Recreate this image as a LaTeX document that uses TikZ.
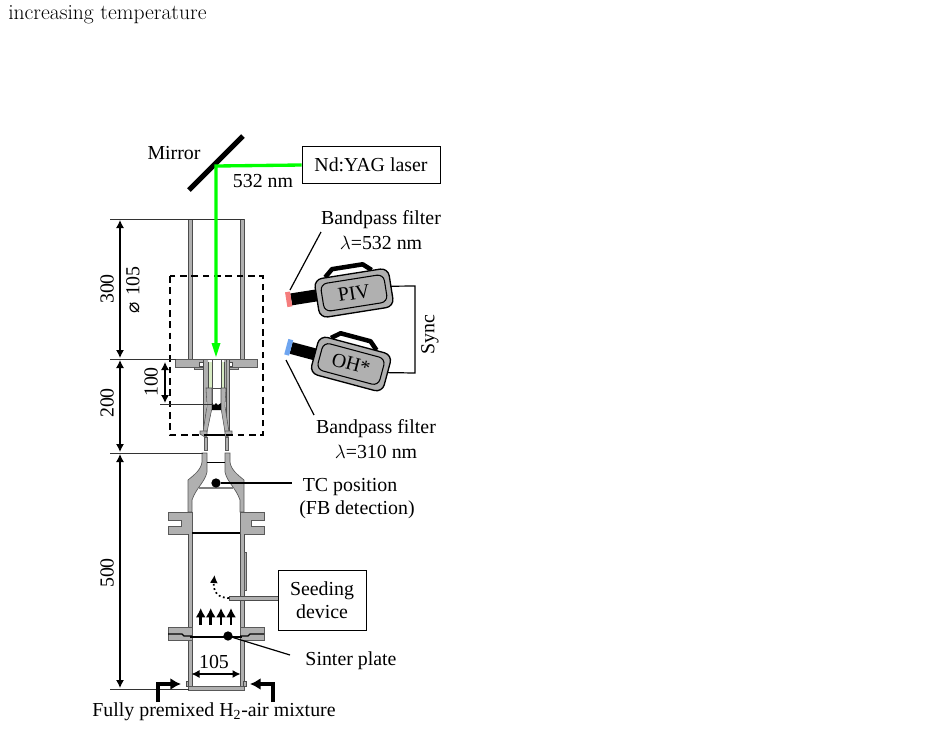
\documentclass[tikz,border=0pt]{standalone}
\usepackage{fontspec}
\newfontfamily\labfont{Liberation Serif}
\newfontfamily\symfont{DejaVu Sans}
\usetikzlibrary{arrows.meta}
\definecolor{wallgray}{RGB}{176,176,176}
\definecolor{beamgreen}{RGB}{0,255,0}
\definecolor{palegreen}{RGB}{215,235,195}
\definecolor{redfilter}{RGB}{245,125,125}
\definecolor{bluefilter}{RGB}{110,165,240}
\tikzset{
  lab/.style={font=\labfont\fontsize{14.9}{16}\selectfont,inner sep=0pt,align=center},
  dimline/.style={line width=0.6pt,black!80},
  dimarrow/.style={line width=0.9pt,{Latex[length=6pt,width=6pt]}-{Latex[length=6pt,width=6pt]}},
  wall/.style={fill=wallgray,draw=black!65,line width=0.5pt},
  beam/.style={draw=beamgreen,line width=2.5pt},
  leader/.style={line width=0.9pt},
  flowarrow/.style={line width=2.2pt,-{Latex[length=7pt,width=7.5pt]}},
  inletarrow/.style={line width=3pt,-{Latex[length=8pt,width=9pt]}},
  boxnode/.style={lab,draw,line width=0.7pt,minimum height=28pt},
  cambody/.style={fill=wallgray,draw=black,line width=1pt,rounded corners=6pt},
  caminner/.style={draw=black,line width=0.8pt,rounded corners=5pt},
}
\begin{document}
\begin{tikzpicture}[x=0.75pt,y=-0.75pt]
\useasboundingbox (0,0) rectangle (926,729);
% top text
\node[anchor=west,inner sep=0pt,font=\fontsize{16.2}{17}\selectfont] (caption) at (8,15) {increasing temperature};
% mirror
\coordinate (mirrorA) at (189,190);
\coordinate (mirrorB) at (243,136);
\draw[line width=3.8pt] (mirrorA) -- (mirrorB);
\node[lab] (mirrorlab) at (174,153) {Mirror};
% laser
\node[boxnode,minimum width=103.5pt] (laser) at (371,165) {Nd:YAG laser};
\node[lab] (nm) at (263,181) {532 nm};
% upper tube
\fill[wallgray] (188,219) rectangle (192,359) (240,219) rectangle (244,359);
\draw[black!70,line width=0.5pt] (188,219) -- (188,359) (192,219) -- (192,359) (240,219) -- (240,359) (244,219) -- (244,359);
% flange
\draw[wall] (175,359) rectangle (257,367);
\draw[wall] (194,367) rectangle (203,369) (229,367) rectangle (238,369);
% burner tube
\fill[wallgray] (203,360) rectangle (206,432) (226,360) rectangle (229,432);
\draw[black!70,line width=0.5pt] (203,360) -- (203,432) (206,360) -- (206,432) (226,360) -- (226,432) (229,360) -- (229,432);
\fill[white] (206,360) rectangle (226,432);
\fill[palegreen] (208,362) rectangle (212,388) (222,362) rectangle (226,388);
\fill[wallgray] (206,360) rectangle (208,388) (224,360) rectangle (226,388);
\draw[black!70,line width=0.4pt] (212,360) -- (212,406) (221,360) -- (221,406) (208,362) -- (208,388) (224,362) -- (224,388);
\draw[black!70,line width=0.5pt] (212,388) -- (221,388);
\fill[white,draw=black!70,line width=0.4pt] (199.5,362) rectangle (203,366.5) (229,362) rectangle (232.5,366.5);
\fill[wallgray,draw=black!70,line width=0.4pt] (212,388) -- (206,388) -- (207,406) -- (203,432) -- (207,432) -- (212,408) -- cycle;
\fill[wallgray,draw=black!70,line width=0.4pt] (221,388) -- (226,388) -- (225,406) -- (229,432) -- (225,432) -- (221,408) -- cycle;
% mesh
\fill[black] (212,403) -- (214,405) -- (216,403) -- (218,405) -- (221,403) -- (221,410) -- (212,410) -- cycle;
% burner flange
\draw[wall] (200,431) -- (207,431) -- (207,436) -- (205,437) -- (200,434) -- cycle;
\draw[wall] (232,431) -- (225,431) -- (225,436) -- (227,437) -- (232,434) -- cycle;
\draw[line width=1.3pt] (207,435) -- (225,435);
\draw[wall] (204,437) rectangle (207,450) (225,437) rectangle (228,450);
% contraction, left and right
\draw[wall] (202,453) -- (207,453) -- (207,472) .. controls (205,482) and (196,488) .. (192,500) -- (192,512) -- (188,512) -- (188,480) .. controls (194,475) and (201,470) .. (202,462) -- cycle;
\draw[wall] (230,453) -- (225,453) -- (225,472) .. controls (227,482) and (236,488) .. (240,500) -- (240,512) -- (244,512) -- (244,480) .. controls (238,475) and (231,470) .. (230,462) -- cycle;
\draw[line width=0.5pt] (207,462) -- (225,462);
\draw[black!50,line width=1pt] (199,488) -- (233,488);
% flange pair
\draw[wall] (168,512) -- (192,512) -- (192,534) -- (168,534) -- (168,526) -- (181,526) -- (181,520) -- (168,520) -- cycle;
\draw[wall] (264,512) -- (240,512) -- (240,534) -- (264,534) -- (264,526) -- (251,526) -- (251,520) -- (264,520) -- cycle;
\draw[line width=1.4pt] (192,533) -- (240,533);
% lower tube
\fill[wallgray] (188,534) rectangle (192,689) (240,534) rectangle (244,689);
\draw[black!70,line width=0.5pt] (188,534) -- (188,689) (192,534) -- (192,689) (240,534) -- (240,689) (244,534) -- (244,689);
\draw[wall] (188,686) rectangle (244,690);
\draw[wall] (244,552) rectangle (246,590);
\fill[wallgray,draw=black!70,line width=0.4pt] (186,681.5) rectangle (188.5,686.5) (243.5,681.5) rectangle (246,686.5);
% lower flange
\draw[wall] (168,627) rectangle (192,640) (240,627) rectangle (264,640);
\draw[line width=0.9pt] (168,634) -- (182,634) -- (184,636) -- (192,636) (264,634) -- (250,634) -- (248,636) -- (240,636);
\draw[line width=1.1pt] (190,637) -- (242,637);
% dashed box
\draw[dashed,line width=0.8pt,dash pattern=on 5pt off 3.5pt] (170,276) rectangle (263,435);
% dimension lines
\coordinate (d0) at (110,219); \coordinate (d0e) at (191,219);
\coordinate (d1) at (110,359); \coordinate (d1e) at (176,359);
\coordinate (d2) at (110,453); \coordinate (d2e) at (203,453);
\coordinate (d3) at (110,689); \coordinate (d3e) at (189,689);
\coordinate (d4) at (160,404); \coordinate (d4e) at (213,404);
\draw[dimline] (d0) -- (d0e);
\draw[dimline] (d0e) -- (244,219);
\draw[dimline] (d1) -- (d1e);
\draw[dimline] (d2) -- (d2e);
\draw[dimline] (d3) -- (d3e);
\draw[dimline] (d4) -- (d4e);
\draw[dimarrow] (120,220) -- (120,358);
\draw[dimarrow] (120,360) -- (120,452);
\draw[dimarrow] (120,454) -- (120,688);
\draw[dimarrow] (165,362) -- (165,403);
\draw[dimarrow] (191.5,674) -- (240.5,674);
\node[lab,rotate=90] (t300) at (107,289) {300};
\node[lab,rotate=90] (tdia) at (133,290) {{\symfont\fontsize{14}{14}\selectfont ⌀}\,\,105};
\node[lab,rotate=90] (t200) at (107,403) {200};
\node[lab,rotate=90] (t100) at (151,382) {100};
\node[lab,rotate=90] (t500) at (107,573) {500};
\node[lab] (t105) at (214,662) {105};
% beam
\coordinate (beamcorner) at (216,166);
\coordinate (beamend) at (216,357);
\draw[beam] (laser.west) -- (beamcorner) -- (216,346);
\fill[beamgreen] (beamend) -- (211.5,343) -- (220.5,343) -- cycle;
% TC
\node[circle,fill,inner sep=0pt,minimum size=7pt] (tc) at (216,483) {};
\node[lab] (tclab) at (350,487) {TC position};
\node[lab] (fblab) at (357,510) {(FB detection)};
\coordinate (tcend) at (292,483);
\draw[leader] (tc) -- (tcend);
% seeding
\node[boxnode,minimum width=66pt,minimum height=45.5pt] (seed) at (322,600.5) {Seeding\\[1.25pt]device};
\coordinate (seedtip) at (229,598);
\fill[wallgray] (seedtip) ++(0,-2) rectangle (278,600);
\draw[black!70,line width=0.5pt] (229,596) -- (278,596) (229,600) -- (278,600) (229,596) -- (229,600);
\draw[dotted,line width=1.3pt,-{Latex[length=6pt,width=6pt]}] (seedtip) .. controls (218,598) and (213,592) .. (214.5,575);
% flow arrows
\foreach \fx/\fn in {200.7/a,210.7/b,221/c,231/d}{
  \coordinate (fs\fn) at (\fx,625);
  \coordinate (fe\fn) at (\fx,608);
  \draw[flowarrow] (fs\fn) -- (fe\fn);
}
% sinter
\node[circle,fill,inner sep=0pt,minimum size=7pt] (sinter) at (228,636) {};
\node[lab] (sinterlab) at (351,661) {Sinter plate};
\coordinate (sinterend) at (290,655);
\draw[leader] (sinter) -- (sinterend);
% inlets
\coordinate (ila) at (158,702); \coordinate (ilb) at (158,684); \coordinate (ilc) at (181,684);
\coordinate (ira) at (273,702); \coordinate (irb) at (273,684); \coordinate (irc) at (250,684);
\draw[inletarrow] (ila) -- (ilb) -- (ilc);
\draw[inletarrow] (ira) -- (irb) -- (irc);
\node[lab] (mix) at (214,712) {Fully premixed H\textsubscript{2}-air mixture};
% cameras
\begin{scope}[shift={(354,293)},rotate=9]
  \coordinate (pivport) at (37,-1);
  \draw[line width=3.4pt,line join=round] (-26,-20) -- (-18,-27) -- (13,-27) -- (21,-20);
  \fill[black] (-37,-9.5) -- (-63,-9.5) -- (-63,2.5) -- (-37,2.5) -- cycle;
  \fill[redfilter] (-68,-11.5) rectangle (-63,3.5);
  \draw[cambody] (-37.5,-19.5) rectangle (37.5,19.5);
  \draw[caminner] (-32,-14) rectangle (32,14);
  \node[lab,rotate=9] (pivlab) at (0,0) {PIV};
\end{scope}
\begin{scope}[shift={(351,364)},rotate=-15]
  \coordinate (ohport) at (37,-1);
  \draw[line width=3.4pt,line join=round] (-26,-20) -- (-18,-27) -- (13,-27) -- (21,-20);
  \fill[black] (-37,-6) -- (-62,-6) -- (-62,6) -- (-37,6) -- cycle;
  \fill[bluefilter] (-67,-8) rectangle (-62,8);
  \draw[cambody] (-37.5,-19.5) rectangle (37.5,19.5);
  \draw[caminner] (-32,-14) rectangle (32,14);
  \node[lab,rotate=-15] (ohlab) at (0,0) {OH*};
\end{scope}
\draw[line width=0.9pt] (pivport) -- (415,286) -- (415,373) -- (ohport);
\node[lab,rotate=90] (sync) at (430,335) {Sync};
\node[lab] (bp1) at (381,220) {Bandpass filter};
\node[lab] (bp1b) at (381,243) {$\lambda$=532 nm};
\node[lab] (bp2) at (376,429) {Bandpass filter};
\node[lab] (bp2b) at (376,452) {$\lambda$=310 nm};
\coordinate (l1a) at (321,232); \coordinate (l1b) at (290,290);
\coordinate (l2a) at (286,360); \coordinate (l2b) at (314,415);
\draw[leader] (l1a) -- (l1b);
\draw[leader] (l2a) -- (l2b);
\end{tikzpicture}
\end{document}
